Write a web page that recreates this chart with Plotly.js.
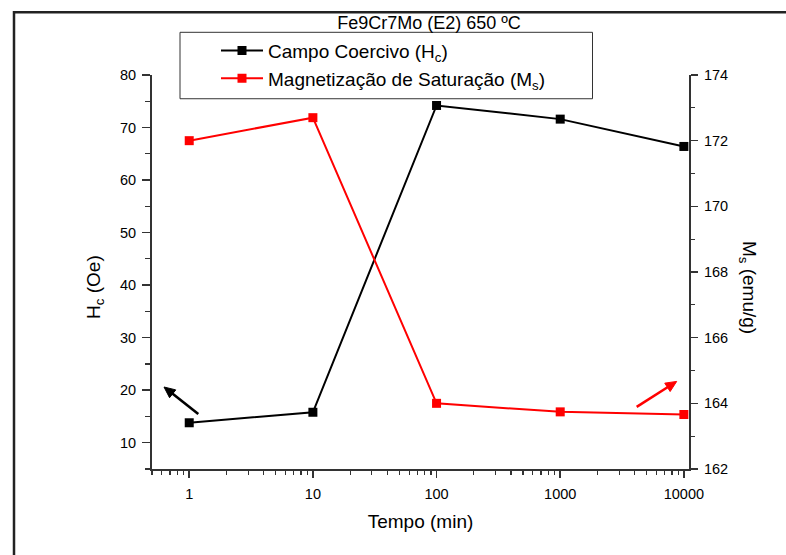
<!DOCTYPE html>
<html>
<head>
<meta charset="utf-8">
<script src="https://cdn.plot.ly/plotly-3.0.1.min.js"></script>
<style>
  html, body { margin: 0; padding: 0; background: #fff; }
  #chart { width: 786px; height: 555px; }
</style>
</head>
<body>
<div id="chart"></div>
<script>
// Annealing time at 650 ºC (minutes)
const timeMin = [1, 10, 100, 1000, 10000];
// Coercive field Hc (Oe), left axis
const coerciveField = [13.8, 15.8, 74.2, 71.6, 66.4];
// Saturation magnetisation Ms (emu/g), right axis
const saturationMag = [172.0, 172.7, 164.0, 163.74, 163.66];

const seriesNames = ['Campo Coercivo (H<sub>c</sub>)', 'Magnetização de Saturação (M<sub>s</sub>)'];
const xTickVals = [1, 10, 100, 1000, 10000];
const xTickText = ['1', '10', '100', '1000', '10000'];
const leftTickVals = [10, 20, 30, 40, 50, 60, 70, 80];
const rightTickVals = [162, 164, 166, 168, 170, 172, 174];

const FONT = 'Arial, "Liberation Sans", sans-serif';
const AXIS_COLOR = '#333333';

// plot-area margins (px)
const M = { l: 152, r: 97, t: 74.5, b: 85.5 };
const W = 786, H = 555;
const pw = W - M.l - M.r, ph = H - M.t - M.b;
const px2x = p => (p - M.l) / pw;          // page px -> paper x
const py2y = p => 1 - (p - M.t) / ph;      // page px -> paper y

// Arrow drawn as a shaft plus a filled head, between two page points
function arrowShapes(tail, head, color) {
  const dx = head[0] - tail[0], dy = head[1] - tail[1];
  const len = Math.hypot(dx, dy);
  const ux = dx / len, uy = dy / len;
  const hl = 11, hw = 5;
  const bx = head[0] - hl * ux, by = head[1] - hl * uy;
  const nx = -uy, ny = ux;
  const P = (x, y) => `${px2x(x)} ${py2y(y)}`;
  return [
    {
      type: 'path', xref: 'paper', yref: 'paper',
      path: `M ${P(tail[0], tail[1])} L ${P(bx + 2 * ux, by + 2 * uy)}`,
      line: { color: color, width: 2.6 }, layer: 'above'
    },
    {
      type: 'path', xref: 'paper', yref: 'paper',
      path: `M ${P(head[0], head[1])} L ${P(bx + hw * nx, by + hw * ny)} L ${P(bx - hw * nx, by - hw * ny)} Z`,
      line: { color: color, width: 1 }, fillcolor: color, layer: 'above'
    }
  ];
}

const traces = [
  {
    x: timeMin, y: coerciveField, name: seriesNames[0],
    type: 'scatter', mode: 'lines+markers', yaxis: 'y',
    line: { color: '#000000', width: 2 },
    marker: { symbol: 'square', size: 9, color: '#000000' }
  },
  {
    x: timeMin, y: saturationMag, name: seriesNames[1],
    type: 'scatter', mode: 'lines+markers', yaxis: 'y2',
    line: { color: '#ff0000', width: 2 },
    marker: { symbol: 'square', size: 9, color: '#ff0000' }
  }
];

const tickFont = { family: FONT, size: 14.5, color: '#000' };

const layout = {
  width: W, height: H,
  margin: { l: M.l, r: M.r, t: M.t, b: M.b, pad: 0 },
  paper_bgcolor: '#ffffff', plot_bgcolor: '#ffffff',
  font: { family: FONT, color: '#000' },
  title: {
    text: 'Fe9Cr7Mo (E2) 650 ºC',
    font: { family: FONT, size: 18, color: '#000' },
    xref: 'paper', x: px2x(429), xanchor: 'center',
    yref: 'container', y: 1 - 23 / H, yanchor: 'middle'
  },
  showlegend: true,
  legend: {
    x: px2x(216), y: py2y(31), xanchor: 'left', yanchor: 'top',
    bgcolor: 'rgba(0,0,0,0)', borderwidth: 0,
    font: { family: FONT, size: 19, color: '#000' },
    itemwidth: 42, tracegroupgap: 0
  },
  xaxis: {
    type: 'log',
    range: [Math.log10(0.5), Math.log10(11000)],
    tickmode: 'array', tickvals: xTickVals, ticktext: xTickText,
    ticks: 'outside', ticklen: 7, tickwidth: 1.5, tickcolor: AXIS_COLOR,
    minor: { ticks: 'outside', ticklen: 4, tickwidth: 1.2, tickcolor: AXIS_COLOR, dtick: 'D1', showgrid: false },
    showline: true, linecolor: AXIS_COLOR, linewidth: 2,
    showgrid: false, zeroline: false,
    tickfont: tickFont, ticklabelstandoff: 4,
    title: { text: 'Tempo (min)', font: { family: FONT, size: 19, color: '#000' }, standoff: 13 }
  },
  yaxis: {
    range: [5, 80],
    tickmode: 'array', tickvals: leftTickVals,
    ticks: 'outside', ticklen: 8, tickwidth: 1.5, tickcolor: AXIS_COLOR,
    minor: { ticks: 'outside', ticklen: 5, tickwidth: 1.2, tickcolor: AXIS_COLOR, dtick: 5, showgrid: false },
    showline: true, linecolor: AXIS_COLOR, linewidth: 2,
    showgrid: false, zeroline: false,
    tickfont: tickFont, ticklabelstandoff: 3
  },
  yaxis2: {
    overlaying: 'y', side: 'right',
    range: [162, 174],
    tickmode: 'array', tickvals: rightTickVals,
    ticks: 'outside', ticklen: 7, tickwidth: 1.5, tickcolor: AXIS_COLOR,
    minor: { ticks: 'outside', ticklen: 4, tickwidth: 1.2, tickcolor: AXIS_COLOR, dtick: 1, showgrid: false },
    showline: true, linecolor: AXIS_COLOR, linewidth: 2,
    showgrid: false, zeroline: false,
    tickfont: tickFont, ticklabelstandoff: 3
  },
  shapes: [
    // outer frame (left and top edges)
    {
      type: 'path', xref: 'paper', yref: 'paper',
      path: `M ${px2x(14)} ${py2y(600)} L ${px2x(14)} ${py2y(11.5)} L ${px2x(800)} ${py2y(11.5)}`,
      line: { color: '#222222', width: 2.5 }, layer: 'above'
    },
    // legend box
    {
      type: 'rect', xref: 'paper', yref: 'paper',
      x0: px2x(180), x1: px2x(592.5), y0: py2y(98.3), y1: py2y(31.7),
      line: { color: '#333333', width: 1 }, fillcolor: '#ffffff', layer: 'below'
    },
    // axis pointers for each series
    ...arrowShapes([198.3, 414.3], [164, 387.3], '#000000'),
    ...arrowShapes([636.7, 407.3], [676.7, 381.7], '#ff0000')
  ],
  annotations: [
    {
      text: 'H<sub>c</sub> (Oe)', textangle: -90,
      xref: 'paper', yref: 'paper', x: px2x(95), y: py2y(287),
      xanchor: 'center', yanchor: 'middle', showarrow: false,
      font: { family: FONT, size: 19, color: '#000' }
    },
    {
      text: 'M<sub>s</sub> (emu/g)', textangle: 90,
      xref: 'paper', yref: 'paper', x: px2x(748), y: py2y(287),
      xanchor: 'center', yanchor: 'middle', showarrow: false,
      font: { family: FONT, size: 19, color: '#000' }
    }
  ]
};

Plotly.newPlot('chart', traces, layout, { staticPlot: true, displayModeBar: false });
</script>
</body>
</html>
